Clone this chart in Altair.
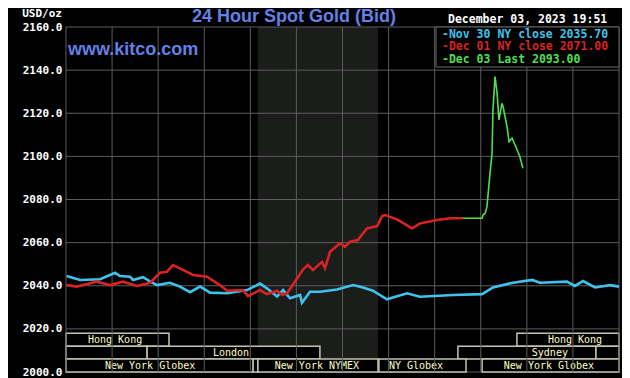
import altair as alt
import pandas as pd

# ---------------- data ----------------
# hours of the day (0-24) and price in USD/oz
nov30_hour = [0.03, 0.61, 1.48, 2.13, 2.34, 2.78, 2.91, 3.34, 3.65, 3.95, 4.51, 4.95, 5.38, 5.82,
              6.25, 6.99, 7.86, 8.42, 8.72, 9.16, 9.42, 9.72, 10.16, 10.24, 10.59, 11.02, 11.76,
              12.46, 12.89, 13.32, 13.93, 14.80, 15.36, 16.80, 18.06, 18.53, 19.40, 20.23, 20.57,
              21.74, 22.09, 22.44, 22.96, 23.61, 24.0]
nov30_price = [2044.5, 2042.7, 2043.0, 2046.0, 2044.5, 2044.2, 2042.7, 2044.0, 2042.0, 2040.3,
               2041.4, 2039.6, 2037.0, 2039.6, 2036.8, 2036.5, 2038.0, 2041.0, 2038.8, 2035.0,
               2038.0, 2034.2, 2035.7, 2032.1, 2037.2, 2037.2, 2038.3, 2040.3, 2039.2, 2037.7,
               2033.7, 2036.5, 2034.9, 2035.7, 2036.1, 2039.2, 2041.4, 2042.7, 2041.4, 2041.9,
               2039.9, 2042.2, 2039.2, 2040.3, 2039.6]

dec01_hour = [0.03, 0.46, 1.33, 1.91, 2.47, 3.08, 3.65, 4.08, 4.38, 4.64, 5.03, 5.51, 6.12, 6.68,
              6.99, 7.68, 7.90, 8.42, 8.72, 9.16, 9.38, 9.59, 10.03, 10.29, 10.50, 10.72, 11.11,
              11.24, 11.46, 11.89, 12.11, 12.33, 12.67, 12.76, 13.06, 13.50, 13.72, 13.85, 14.37,
              15.02, 15.36, 16.10, 16.67, 17.23]
dec01_price = [2040.3, 2039.6, 2041.9, 2040.3, 2041.9, 2039.9, 2041.4, 2046.0, 2046.5, 2049.6,
               2047.6, 2045.0, 2044.2, 2040.3, 2037.7, 2038.0, 2035.2, 2038.0, 2036.1, 2037.7,
               2035.7, 2036.5, 2043.4, 2047.6, 2049.6, 2047.3, 2051.1, 2048.1, 2055.8, 2059.7,
               2058.1, 2060.4, 2061.2, 2062.5, 2066.6, 2067.7, 2072.3, 2072.8, 2070.8, 2066.6,
               2068.9, 2070.5, 2071.3, 2071.3]

dec03_hour = [17.23, 18.06, 18.10, 18.19, 18.27, 18.40, 18.49, 18.53, 18.62, 18.71, 18.79, 18.92,
              18.97, 19.14, 19.23, 19.36, 19.49, 19.70, 19.83]
dec03_price = [2071.3, 2071.3, 2072.8, 2073.6, 2076.7, 2092.0, 2101.4, 2121.5, 2137.0, 2129.2,
               2116.9, 2124.6, 2123.0, 2113.8, 2106.8, 2108.4, 2105.3, 2099.8, 2094.5]

series_names = ["Nov 30 NY close 2035.70", "Dec 01 NY close 2071.00", "Dec 03 Last 2093.00"]
series_colors = ["#3fc3ec", "#d92222", "#4fdf4f"]

# trading sessions (hours) drawn as boxes along the bottom, row 0 = top row
session_names = ["Hong Kong", "Hong Kong", "", "London", "Sydney", "",
                 "New York Globex", "", "New York NYMEX", "NY Globex", "New York Globex"]
session_start = [0.0, 19.57, 0.0, 3.52, 17.01, 23.0, 0.0, 8.12, 8.33, 13.58, 18.06]
session_end = [4.47, 24.0, 3.52, 11.02, 23.0, 24.0, 8.12, 8.33, 13.54, 17.36, 24.0]
session_row = [0, 0, 1, 1, 1, 1, 2, 2, 2, 2, 2]
session_label_at = [2.13, 22.09, 1.76, 7.16, 21.0, 23.5, 3.65, 8.2, 10.89, 15.19, 20.96]

nymex_start = [8.33]
nymex_end = [13.54]

x_grid = list(range(0, 25, 2))
y_grid = list(range(2000, 2161, 20))

title_text = "24 Hour Spot Gold (Bid)"
site_text = "www.kitco.com"
date_text = "December 03, 2023 19:51"
unit_text = "USD/oz"

# ---------------- tables ----------------
lines_df = pd.concat([
    pd.DataFrame({"hour": nov30_hour, "price": nov30_price, "series": series_names[0]}),
    pd.DataFrame({"hour": dec01_hour, "price": dec01_price, "series": series_names[1]}),
])
green_df = pd.DataFrame({"hour": dec03_hour, "price": dec03_price, "series": series_names[2]})

row_h = 6.0
sess_df = pd.DataFrame({
    "name": session_names, "start": session_start, "end": session_end,
    "row": session_row, "label_at": session_label_at,
})
sess_df["y0"] = 2000 + (2 - sess_df["row"]) * row_h
sess_df["y1"] = sess_df["y0"] + row_h
sess_df["ymid"] = sess_df["y0"] + row_h / 2

W, H = 553, 345
xs = alt.Scale(domain=[0, 24], nice=False, zero=False)
ys = alt.Scale(domain=[2000, 2160], nice=False, zero=False)
color_scale = alt.Scale(domain=series_names, range=series_colors)
mono = "DejaVu Sans Mono"
one = pd.DataFrame({"a": [0]})

y_axis = alt.Axis(values=y_grid, format=".1f", grid=False, domain=False, ticks=False,
                  labelPadding=4, labelFont=mono, labelFontSize=11, labelFontWeight="bold",
                  labelColor="#ffffff", title=None)


def Y(field):
    return alt.Y(field, scale=ys, axis=y_axis, title=None)


def X(field):
    return alt.X(field, scale=xs, axis=None)


shade = alt.Chart(pd.DataFrame({"start": nymex_start, "end": nymex_end})).mark_rect(
    color="#1b1d1b").encode(x=X("start:Q"), x2="end:Q")

boxes = alt.Chart(sess_df).mark_rect(fill="#000000", stroke="#c4c4b0", strokeWidth=1.5).encode(
    x=X("start:Q"), x2="end:Q", y=Y("y0:Q"), y2="y1:Q")

box_text = alt.Chart(sess_df).mark_text(font=mono, fontSize=10, color="#ffffc4",
                                        baseline="middle", align="center").encode(
    x=X("label_at:Q"), y=Y("ymid:Q"), text="name:N")

vgrid = alt.Chart(pd.DataFrame({"h": x_grid})).mark_rule(color="#5c5c5c", strokeWidth=1).encode(
    x=X("h:Q"))

hgrid = alt.Chart(pd.DataFrame({"p": y_grid})).mark_rule(color="#5c5c5c", strokeWidth=1).encode(
    y=Y("p:Q"))

lines = alt.Chart(lines_df).mark_line(strokeWidth=2.6).encode(
    x=X("hour:Q"), y=Y("price:Q"),
    color=alt.Color("series:N", scale=color_scale, legend=None),
    detail="series:N")

green = alt.Chart(green_df).mark_line(strokeWidth=1.6).encode(
    x=X("hour:Q"), y=Y("price:Q"),
    color=alt.Color("series:N", scale=color_scale, legend=None))

legend_box = alt.Chart(one).mark_rect(fill="#000000", stroke="#6a6a6a", strokeWidth=1).encode(
    x=alt.value(370), x2=alt.value(W), y=alt.value(0), y2=alt.value(40))

legend_rows = []
for name, col, yb in zip(series_names, series_colors, [10.5, 22.8, 35.5]):
    legend_rows.append(
        alt.Chart(pd.DataFrame({"t": ["-" + name]})).mark_text(
            font=mono, fontSize=11.5, fontWeight="bold", color=col, align="left",
            baseline="alphabetic").encode(x=alt.value(376), y=alt.value(yb), text="t:N"))

date_t = alt.Chart(pd.DataFrame({"t": [date_text]})).mark_text(
    font=mono, fontSize=11.5, fontWeight="bold", color="#ffffff", align="left",
    baseline="alphabetic").encode(x=alt.value(382), y=alt.value(-4), text="t:N")

unit_t = alt.Chart(pd.DataFrame({"t": [unit_text]})).mark_text(
    font=mono, fontSize=11, fontWeight="bold", color="#ffffff", align="right",
    baseline="alphabetic").encode(x=alt.value(-4), y=alt.value(-10.5), text="t:N")

title_t = alt.Chart(pd.DataFrame({"t": [title_text]})).mark_text(
    font="Liberation Sans", fontSize=18, fontWeight="bold", color="#6480e6", align="center",
    baseline="alphabetic").encode(x=alt.value(228), y=alt.value(-5), text="t:N")

site_t = alt.Chart(pd.DataFrame({"t": [site_text]})).mark_text(
    font="Liberation Sans", fontSize=18, fontWeight="bold", color="#6480e6", align="left",
    baseline="alphabetic").encode(x=alt.value(2), y=alt.value(28), text="t:N")

chart = alt.layer(
    shade, hgrid, boxes, box_text, vgrid, lines, green, legend_box, *legend_rows,
    date_t, unit_t, title_t, site_t
).properties(
    width=W, height=H,
    autosize=alt.AutoSizeParams(type="none"),
    padding={"left": 58, "top": 19, "right": 3, "bottom": 6},
    background="#000000",
).configure_view(strokeWidth=0)

chart.save("out.html", embed_options={"renderer": "svg", "actions": False})
